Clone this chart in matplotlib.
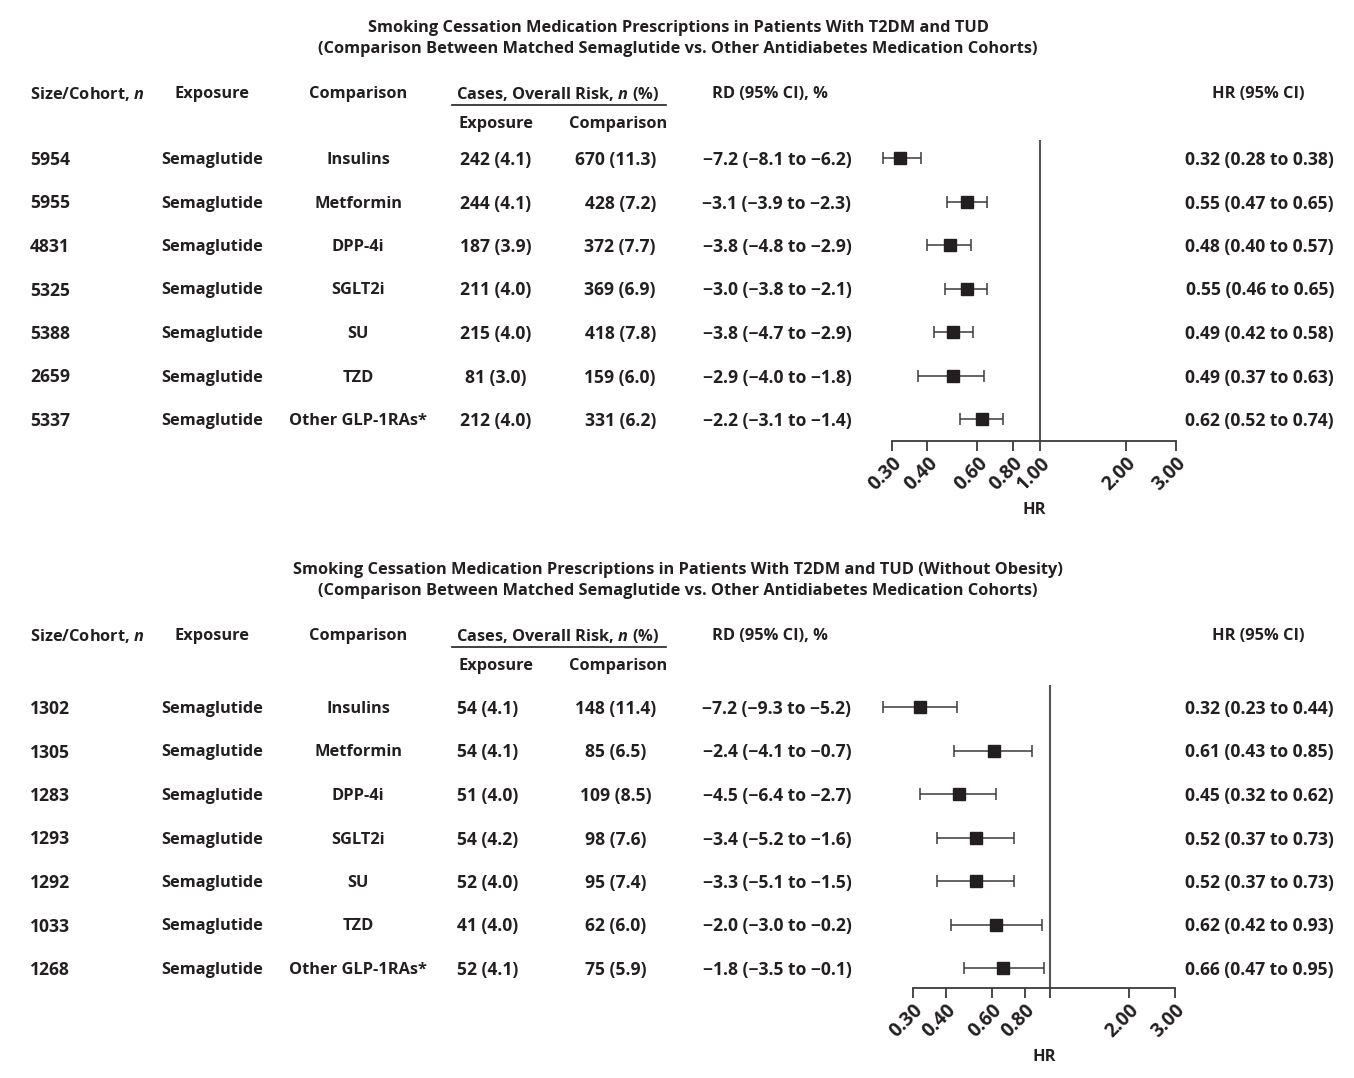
import matplotlib
matplotlib.use("Agg")
import matplotlib.pyplot as plt
from matplotlib.ticker import FixedLocator, NullLocator

plt.rcParams['font.family'] = ['Open Sans', 'DejaVu Sans']
plt.rcParams['font.weight'] = 'bold'
plt.rcParams['mathtext.fontset'] = 'custom'
plt.rcParams['mathtext.bfit'] = 'Open Sans:bold:italic'
plt.rcParams['mathtext.it'] = 'Open Sans:bold:italic'

INK = '#231f20'
W, H = 1354, 1078
FS = 11.8      # labels
FSN = 12.6     # numeric cells (the source face has wide figures)

# ---- data ----
exposure = ['Semaglutide'] * 7
comparison = ['Insulins', 'Metformin', 'DPP-4i', 'SGLT2i', 'SU', 'TZD', 'Other GLP-1RAs*']

size_all = [5954, 5955, 4831, 5325, 5388, 2659, 5337]
exp_cases_all = ['242 (4.1)', '244 (4.1)', '187 (3.9)', '211 (4.0)', '215 (4.0)', '81 (3.0)', '212 (4.0)']
cmp_cases_all = ['670 (11.3)', '428 (7.2)', '372 (7.7)', '369 (6.9)', '418 (7.8)', '159 (6.0)', '331 (6.2)']
rd_all = ['\u22127.2 (\u22128.1 to \u22126.2)', '\u22123.1 (\u22123.9 to \u22122.3)', '\u22123.8 (\u22124.8 to \u22122.9)',
          '\u22123.0 (\u22123.8 to \u22122.1)', '\u22123.8 (\u22124.7 to \u22122.9)', '\u22122.9 (\u22124.0 to \u22121.8)',
          '\u22122.2 (\u22123.1 to \u22121.4)']
hr_all = [0.32, 0.55, 0.48, 0.55, 0.49, 0.49, 0.62]
lo_all = [0.28, 0.47, 0.40, 0.46, 0.42, 0.37, 0.52]
hi_all = [0.38, 0.65, 0.57, 0.65, 0.58, 0.63, 0.74]

size_nob = [1302, 1305, 1283, 1293, 1292, 1033, 1268]
exp_cases_nob = ['54 (4.1)', '54 (4.1)', '51 (4.0)', '54 (4.2)', '52 (4.0)', '41 (4.0)', '52 (4.1)']
cmp_cases_nob = ['148 (11.4)', '85 (6.5)', '109 (8.5)', '98 (7.6)', '95 (7.4)', '62 (6.0)', '75 (5.9)']
rd_nob = ['\u22127.2 (\u22129.3 to \u22125.2)', '\u22122.4 (\u22124.1 to \u22120.7)', '\u22124.5 (\u22126.4 to \u22122.7)',
          '\u22123.4 (\u22125.2 to \u22121.6)', '\u22123.3 (\u22125.1 to \u22121.5)', '\u22122.0 (\u22123.0 to \u22120.2)',
          '\u22121.8 (\u22123.5 to \u22120.1)']
hr_nob = [0.32, 0.61, 0.45, 0.52, 0.52, 0.62, 0.66]
lo_nob = [0.23, 0.43, 0.32, 0.37, 0.37, 0.42, 0.47]
hi_nob = [0.44, 0.85, 0.62, 0.73, 0.73, 0.93, 0.95]

hr_ticks = [0.3, 0.4, 0.6, 0.8, 1.0, 2.0, 3.0]

fig = plt.figure(figsize=(W / 100, H / 100), dpi=100)
base = fig.add_axes([0, 0, 1, 1])
base.set_xlim(0, W)
base.set_ylim(H, 0)
base.axis('off')


def txt(x, y, s, ha='center', fs=FS, **kw):
    base.text(x, y, s, ha=ha, va='center_baseline', fontsize=fs, color=INK, **kw)


def panel(top, title2, sizes, exp_c, cmp_c, rd, hr, lo, hi, ax_px, label_one, exp_x, cmp_x, cmp_ha):
    # titles
    txt(678, top + 26, 'Smoking Cessation Medication Prescriptions in Patients With T2DM and TUD' + title2)
    txt(678, top + 47, '(Comparison Between Matched Semaglutide vs. Other Antidiabetes Medication Cohorts)')
    # headers
    hy = top + 92
    txt(30, hy, 'Size/Cohort, $n$', ha='left')
    txt(212, hy, 'Exposure')
    txt(358, hy, 'Comparison')
    txt(558, hy, 'Cases, Overall Risk, $n$ (%)')
    base.plot([452, 666], [hy + 13, hy + 13], color=INK, lw=1.2)
    txt(496, hy + 30, 'Exposure')
    txt(618, hy + 30, 'Comparison')
    txt(712, hy, 'RD (95% CI), %', ha='left')
    txt(1258, hy, 'HR (95% CI)')
    # rows
    y0 = ax_px['row0']
    for i in range(len(sizes)):
        y = y0 + i * 43.5
        txt(30, y, str(sizes[i]), ha='left', fs=FSN)
        txt(212, y, exposure[i])
        txt(358, y, comparison[i])
        txt(exp_x, y, exp_c[i], fs=FSN)
        txt(cmp_x, y, cmp_c[i], ha=cmp_ha, fs=FSN)
        txt(777, y, rd[i], fs=FSN)
        txt(1334, y, '%.2f (%.2f to %.2f)' % (hr[i], lo[i], hi[i]), ha='right', fs=FSN)

    # forest axis
    l, r, t, b = ax_px['left'], ax_px['right'], ax_px['top'], ax_px['bottom']
    ax = fig.add_axes([l / W, 1 - b / H, (r - l) / W, (b - t) / H])
    ax.set_xscale('log')
    ax.set_xlim(0.3, 3.0)
    ax.set_ylim((b - y0) / 43.5, (t - y0) / 43.5)
    ax.patch.set_alpha(0)
    for s in ['top', 'right', 'left']:
        ax.spines[s].set_visible(False)
    ax.spines['bottom'].set_color('#3a3a3a')
    ax.spines['bottom'].set_linewidth(1.3)
    ax.yaxis.set_major_locator(NullLocator())
    ax.xaxis.set_major_locator(FixedLocator(hr_ticks))
    ax.xaxis.set_minor_locator(NullLocator())
    labels = ['%.2f' % v if (v != 1.0 or label_one) else '' for v in hr_ticks]
    ax.set_xticklabels(labels, rotation=45, ha='right', va='top', rotation_mode='anchor',
                       fontsize=13.8, fontweight='bold', color=INK)
    ax.tick_params(axis='x', direction='out', length=7, width=1.3, color='#3a3a3a', pad=2)
    ax.axvline(1.0, color='#555555', lw=1.5, zorder=1)
    rows = list(range(len(hr)))
    xerr = [[h - a for h, a in zip(hr, lo)], [c - h for h, c in zip(hr, hi)]]
    ax.errorbar(hr, rows, xerr=xerr, fmt='s', color='#3a3a3a', ecolor='#3a3a3a', elinewidth=1.1,
                capsize=4.5, capthick=1.1, markersize=8, markerfacecolor=INK, markeredgecolor=INK,
                clip_on=False, zorder=3)
    ax.set_xlabel('HR', fontsize=FS, fontweight='bold', color=INK, labelpad=5)
    return ax


panel(0, '', size_all, exp_cases_all, cmp_cases_all, rd_all, hr_all, lo_all, hi_all,
      dict(left=892, right=1176, top=140, bottom=441, row0=158), True, 496, 656, 'right')
panel(542, ' (Without Obesity)', size_nob, exp_cases_nob, cmp_cases_nob, rd_nob, hr_nob, lo_nob, hi_nob,
      dict(left=913, right=1175, top=685, bottom=988, row0=707), False, 488, 616, 'center')

fig.savefig('out.png', dpi=100)
